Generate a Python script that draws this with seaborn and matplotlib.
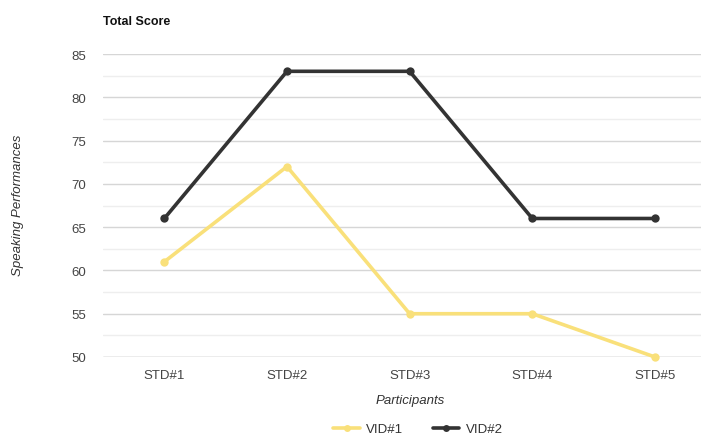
import matplotlib
matplotlib.use("Agg")
import matplotlib.pyplot as plt
import seaborn as sns
import pandas as pd
from matplotlib.ticker import MultipleLocator

participants = ["STD#1", "STD#2", "STD#3", "STD#4", "STD#5"]
vid1 = [61, 72, 55, 55, 50]
vid2 = [66, 83, 83, 66, 66]
series_names = ["VID#1", "VID#2"]
colors = ["#F9E07A", "#333333"]

df = pd.DataFrame({
    "Participants": participants * 2,
    "Score": vid1 + vid2,
    "Series": [series_names[0]] * len(vid1) + [series_names[1]] * len(vid2),
})
df["pos"] = list(range(len(participants))) * 2

sns.set_theme(style="white")
plt.rcParams["font.family"] = ["Liberation Sans", "DejaVu Sans"]

fig = plt.figure(figsize=(7.01, 4.35), dpi=100)
ax = fig.add_axes([103 / 701, 1 - 358 / 435, 1 - 103 / 701, (358 - 55) / 435])

sns.lineplot(data=df, x="pos", y="Score", hue="Series", palette=colors,
             marker="o", markersize=6, markeredgewidth=0, linewidth=2.6,
             ax=ax, legend=False, clip_on=False, zorder=3)

ax.set_xlim(-0.5, (701 - 165) / 122.5)
ax.set_ylim(50, 85)
ax.set_xticks(range(len(participants)))
ax.set_xticklabels(participants)
ax.yaxis.set_major_locator(MultipleLocator(5))
ax.yaxis.set_minor_locator(MultipleLocator(2.5))
ax.grid(which="major", axis="y", color="#d6d6d6", linewidth=1)
ax.grid(which="minor", axis="y", color="#eeeeee", linewidth=1)
ax.set_axisbelow(True)
for s in ax.spines.values():
    s.set_visible(False)
ax.axhline(50, color="#c8c8c8", linewidth=1, zorder=1)
ax.tick_params(axis="both", length=0, labelsize=9.5, colors="#444444")
ax.tick_params(axis="y", pad=12)
ax.tick_params(axis="x", pad=9)
ax.set_xlabel("")
ax.set_ylabel("")

fig.text(103 / 701, 1 - 22 / 435, "Total Score", fontsize=9, fontweight="bold",
         color="#111111", va="center", ha="left")
fig.text(18 / 701, 1 - 205 / 435, "Speaking Performances", fontsize=9.5,
         style="italic", color="#333333", rotation=90, va="center", ha="center")
fig.text(410 / 701, 1 - 401 / 435, "Participants", fontsize=9.5,
         style="italic", color="#333333", va="center", ha="center")

handles = [plt.Line2D([], [], color=c, marker="o", markersize=5, markeredgewidth=0,
                      linewidth=2.6) for c in colors]
fig.legend(handles, series_names, loc="center", bbox_to_anchor=(418 / 701, 1 - 430 / 435),
           ncol=2, frameon=False, fontsize=9.5, handlelength=2.0, columnspacing=2.2,
           handletextpad=0.5, labelcolor="#333333")

fig.savefig("out.png", dpi=100)
